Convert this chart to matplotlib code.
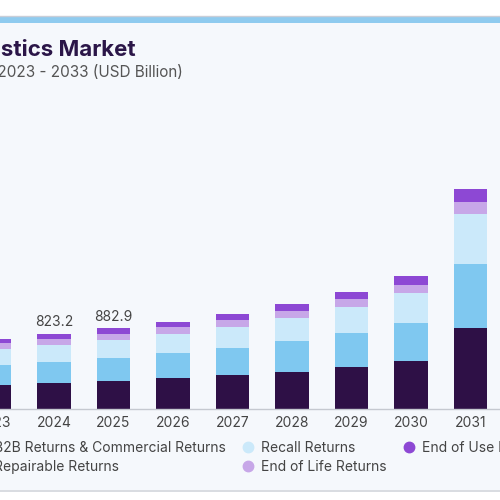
import matplotlib
matplotlib.use('Agg')
import matplotlib.pyplot as plt
from matplotlib.lines import Line2D
from matplotlib.patches import Rectangle

plt.rcParams['font.family'] = ['Inter', 'DejaVu Sans']

# values (USD Billion)
years = [2023, 2024, 2025, 2026, 2027, 2028, 2029, 2030, 2031]
b2b = [263, 282, 310, 336, 372, 408, 460, 526, 887]
repairable = [216, 237, 245.3, 274, 299, 336, 372, 419, 701]
recall = [175, 183, 200, 208, 230, 255, 288, 325, 544]
end_of_life = [72, 63, 62, 77, 73, 73, 80, 88, 139]
end_of_use = [41, 58.2, 65.6, 61, 62, 80, 84, 95, 142]
labelled_years = [2024, 2025]

series_names = ['B2B Returns & Commercial Returns', 'Repairable Returns',
                'Recall Returns', 'End of Life Returns', 'End of Use Returns']
series_vals = [b2b, repairable, recall, end_of_life, end_of_use]
colors = ['#2e1046', '#7fc8f0', '#cbe9fa', '#c7a7e8', '#8d48d4']

W = H = 500


def fx(px):
    return px / W


def fy(py):
    return 1 - py / H


fig = plt.figure(figsize=(5, 5), dpi=100, facecolor='white')

# card background, top stripe and bottom rule
fig.patches.append(Rectangle((0, fy(490)), 1, fy(23) - fy(490), transform=fig.transFigure,
                             facecolor='#f5f8fc', edgecolor='none', zorder=-10))
fig.patches.append(Rectangle((0, fy(23)), 1, 7 / H, transform=fig.transFigure,
                             facecolor='#8fcbef', edgecolor='none', zorder=-9))
fig.lines.append(Line2D([0, 1], [fy(15.5), fy(15.5)], transform=fig.transFigure,
                        color='#c9ced8', lw=1))
fig.lines.append(Line2D([0, 1], [fy(490.5), fy(490.5)], transform=fig.transFigure,
                        color='#d2d5dc', lw=1.2))

# axes is wider than the canvas, the picture is a crop
left_px, right_px, base_px, top_px = -60, 560, 409, 100
ax = fig.add_axes([fx(left_px), fy(base_px), (right_px - left_px) / W, (base_px - top_px) / H])
ax.set_facecolor('none')
step = 59.5
ax.set_xlim(2024 + (left_px - 54) / step, 2024 + (right_px - 54) / step)
ax.set_ylim(0, (base_px - top_px) * 10.95)

bottom = [0] * len(years)
for name, vals, c in zip(series_names, series_vals, colors):
    ax.bar(years, vals, width=0.555, bottom=bottom, color=c, label=name, zorder=2)
    bottom = [b + v for b, v in zip(bottom, vals)]

for y, tot in zip(years, bottom):
    if y in labelled_years:
        ax.annotate(f'{tot:.1f}', (y, tot), xytext=(0, 3.5), textcoords='offset points',
                    ha='center', va='bottom', fontsize=10, color='#444444')

ax.set_xticks(years)
ax.set_xticklabels([str(y) for y in years])
ax.tick_params(axis='x', length=0, pad=5, labelsize=10, labelcolor='#444444')
ax.set_yticks([])
for s in ['top', 'right', 'left']:
    ax.spines[s].set_visible(False)
ax.spines['bottom'].set_color('#c5c9d0')
ax.spines['bottom'].set_linewidth(1)

fig.text(fx(136), fy(50), 'Reverse Logistics Market', ha='right', va='center',
         fontsize=16, fontweight='bold', color='#2b1648')
fig.text(fx(183), fy(72), 'Market Size, by Type, 2023 - 2033 (USD Billion)', ha='right',
         va='center', fontsize=11, color='#555555')

handles = [Line2D([], [], marker='o', ls='', markersize=7.5, color=c) for c in colors]
fig.legend(handles, series_names, ncol=3, loc='upper left', bbox_to_anchor=(fx(-27), fy(441)),
           frameon=False, fontsize=10, handlelength=1.2, handletextpad=0.3, columnspacing=1.04,
           labelspacing=0.36, labelcolor='#444444', borderaxespad=0, borderpad=0)

fig.savefig('out.png', dpi=100)
